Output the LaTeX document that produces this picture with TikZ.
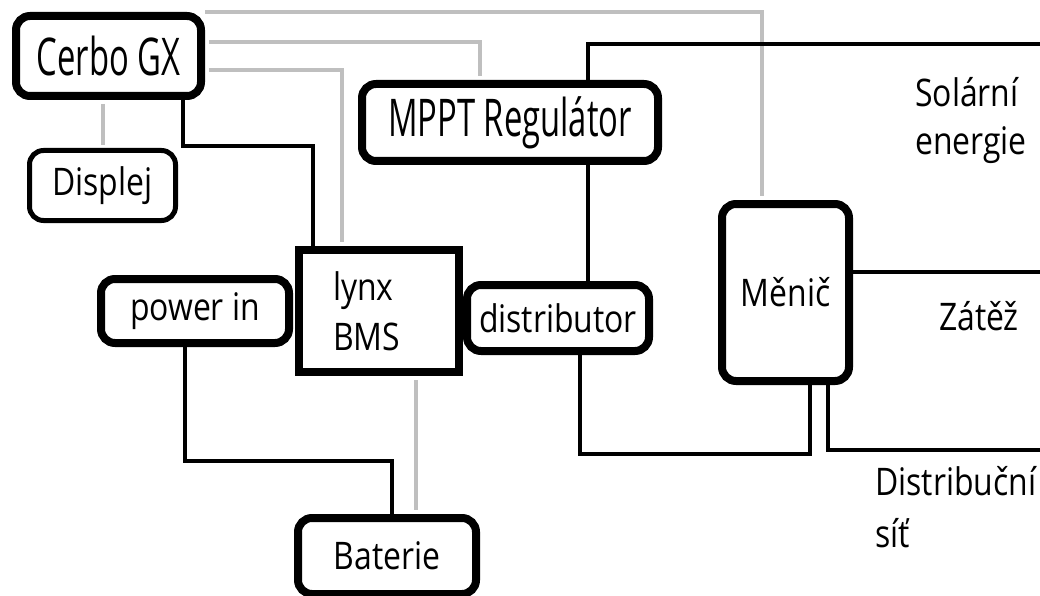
\documentclass[tikz,border=0pt]{standalone}
\usepackage{fontspec}
\setmainfont{Open Sans}[FakeStretch=0.84]
\newfontfamily\widefont{Open Sans}[FakeStretch=0.63]
\usepackage{tikz}
\usetikzlibrary{calc}
\definecolor{wiregray}{HTML}{BFBFBF}

\begin{document}
\begin{tikzpicture}[x=1pt, y=-1pt,
    unit/.style={draw, line width=8pt, rounded corners=14pt, fill=white, inner sep=0pt, font=\fontsize{38}{48}\selectfont},
    bigunit/.style={unit, font=\widefont\fontsize{52}{60}\selectfont},
    bus/.style={draw, line width=8pt, fill=white, inner sep=0pt, align=left, text width=92pt, font=\fontsize{38}{50}\selectfont},
    wire/.style={line width=4pt},
    comm/.style={line width=4pt, wiregray},
    label/.style={inner sep=0pt, align=left, font=\fontsize{38}{48}\selectfont}
]
    \useasboundingbox (0,0) rectangle (1040,596);

    % Units
    \node[bigunit, minimum width=185pt, minimum height=80pt]  (cerbo)   at (108.5, 56)  {Cerbo GX};
    \node[unit, line width=5pt, minimum width=146pt, minimum height=70pt] (displej) at (102.5, 185.5) {Displej};
    \node[bigunit, minimum width=296pt, minimum height=77pt]  (mppt)    at (510, 122.5) {MPPT Regulátor};
    \node[bus, minimum width=160pt, minimum height=122pt]     (lynx)    at (379, 311)   {lynx\\BMS};
    \node[unit, minimum width=188pt, minimum height=64pt]     (powerin) at (195, 311)   {power in};
    \node[unit, minimum width=182pt, minimum height=66pt]     (distrib) at (558, 318)   {distributor};
    \node[unit, minimum width=127pt, minimum height=177pt]    (menic)   at (785.5, 292.5) {Měnič};
    \node[unit, minimum width=178pt, minimum height=76pt]     (baterie) at (387, 556)   {Baterie};

    % Outside sources and loads (base = last line)
    \node[label, anchor=base west] (solar)  at (915, 155) {Solární\\energie};
    \node[label, anchor=base]      (zatez)  at (979, 330) {Zátěž};
    \node[label, anchor=base west, font=\fontsize{38}{52}\selectfont] (grid) at (875, 547) {Distribuční\\síť};
    \coordinate (solarend) at (1040, 44);
    \coordinate (loadend)  at (1040, 272);
    \coordinate (gridend)  at (1040, 450);

    % Communication lines (gray)
    \draw[comm, shorten >=4pt] (cerbo.north east) -| ($(menic.north)+(-23.5,0)$);
    \draw[comm, shorten <=4pt, shorten >=4pt] ($(cerbo.east)+(0,-14)$) -| ($(mppt.north)+(-30,0)$);
    \draw[comm, shorten <=4pt, shorten >=4pt] ($(cerbo.east)+(0,14)$) -| ($(lynx.north)+(-37,0)$);
    \draw[comm, shorten <=4pt, shorten >=2.5pt] (cerbo.south -| displej.north) -- (displej.north);
    \draw[comm, shorten <=4pt, shorten >=4pt] ($(lynx.south)+(37,0)$) -- ($(baterie.north)+(29,0)$);

    % Power lines (black)
    \draw[wire] ($(cerbo.south)+(74.5,0)$) -- ++(0,46) -| ($(lynx.north)+(-66,0)$);
    \draw[wire] ($(mppt.north)+(78,0)$) |- (solarend);
    \draw[wire] ($(mppt.south)+(78,0)$) -- ($(distrib.north)+(30,0)$);
    \draw[wire] ($(distrib.south)+(22,0)$) -- ++(0,99) -| ($(menic.south)+(24.5,0)$);
    \draw[wire] ($(menic.south)+(42.5,0)$) |- (gridend);
    \draw[wire] (menic.east |- loadend) -- (loadend);
    \draw[wire] ($(powerin.south)+(-10,0)$) -- ++(0,114) -| ($(baterie.north)+(5,0)$);
\end{tikzpicture}
\end{document}
